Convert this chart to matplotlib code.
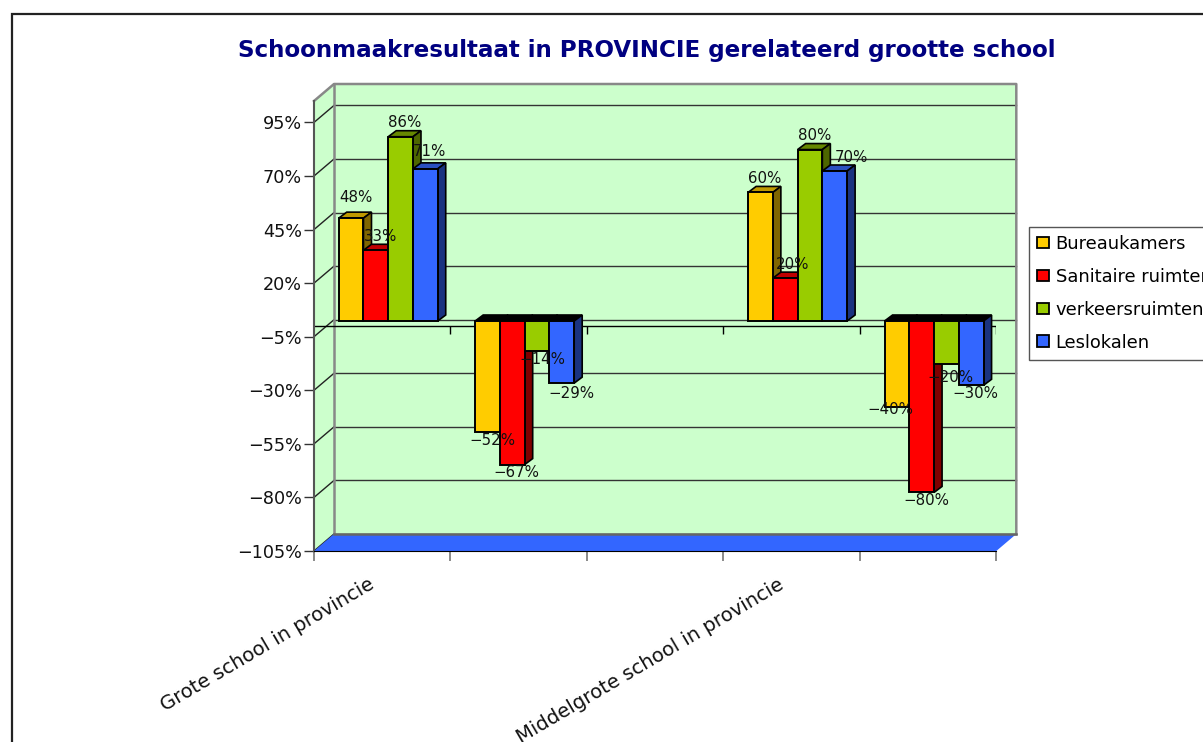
"""Schoonmaakresultaat: pseudo-3D grouped bars on a green walled chart."""
import matplotlib
matplotlib.use("Agg")
import matplotlib.pyplot as plt
from matplotlib.patches import Patch, Rectangle

W, H = 1203, 742

title = "Schoonmaakresultaat in PROVINCIE gerelateerd grootte school"
categories = ["Grote school in provincie", "", "", "Middelgrote school in provincie", ""]
series_names = ["Bureaukamers", "Sanitaire ruimten", "verkeersruimten", "Leslokalen"]
bureaukamers = [48, -52, None, 60, -40]
sanitaire = [33, -67, None, 20, -80]
verkeers = [86, -14, None, 80, -20]
leslokalen = [71, -29, None, 70, -30]
y_ticks = [95, 70, 45, 20, -5, -30, -55, -80, -105]

front_colors = ["#FFCC00", "#FF0000", "#99CC00", "#3366FF"]
top_colors = ["#BF9900", "#BF0000", "#668800", "#2A50C0"]
side_colors = ["#806600", "#7F0000", "#4D6600", "#1A3380"]
wall = "#CCFFCC"

plt.rcParams["font.family"] = "DejaVu Sans"
fig = plt.figure(figsize=(W / 100, H / 100), dpi=100)
fig.add_artist(Rectangle((11.5 / W, -0.1), 1.2, 1.1 - 13.5 / H, transform=fig.transFigure,
                         fill=False, ec="#222222", lw=1.6))
ax = fig.add_axes([314 / W, 1 - 551 / H, 682.3 / W, 450 / H])
ax.patch.set_visible(False)
ax.set_xlim(0, 5)
ax.set_ylim(-105, 105)

px_x = 5 / 682.3
px_y = 210 / 450
dx, dy = 20 * px_x, 17 * px_y  # wall depth
bx, by = 6 * px_x, 5 * px_y  # bars stand a bit inside the box
sx, sy = 8 * px_x, 6 * px_y  # bar depth
bw = 24.75 * px_x

# walls and floor
ax.fill([0, dx, dx, 0], [-105, -105 + dy, 105 + dy, 105], fc=wall, ec="none", zorder=1, clip_on=False)
ax.fill([dx, 5 + dx, 5 + dx, dx], [-105 + dy, -105 + dy, 105 + dy, 105 + dy], fc=wall, ec="none",
        zorder=1, clip_on=False)
for t in y_ticks:
    ax.plot([0, dx], [t, t + dy], color="#222222", lw=1, zorder=2, clip_on=False)
    ax.plot([dx, 5 + dx], [t + dy, t + dy], color="#333333", lw=1, zorder=2, clip_on=False)
ax.plot([0, dx, 5 + dx, 5 + dx], [105, 105 + dy, 105 + dy, -105 + dy], color="#888888", lw=1.8,
        zorder=3, clip_on=False)
ax.plot([dx, dx], [105 + dy, -105 + dy], color="#888888", lw=1.8, zorder=3, clip_on=False)
ax.fill([0, dx, 5 + dx, 5], [-105, -105 + dy, -105 + dy, -105], fc="#3366FF", ec="none", zorder=3,
        clip_on=False)
ax.plot([dx, 5 + dx], [-105 + dy, -105 + dy], color="#666666", lw=1.8, zorder=3, clip_on=False)

# zero axis with its ticks
ax.plot([0, 5], [0, 0], color="black", lw=1, zorder=3)
ax.vlines(range(1, 6), -8 * px_y, 0, color="black", lw=1, zorder=3)

# bars
all_series = [bureaukamers, sanitaire, verkeers, leslokalen]
z = 4
for s, values in enumerate(all_series):
    for c, v in enumerate(values):
        if v is None:
            continue
        x0 = c + 0.5 - 2 * bw + s * bw + bx
        x1 = x0 + bw
        base = by
        end = v + by
        top_y = max(base, end)
        low_y = min(base, end)
        # top, then side, then front
        ax.fill([x0, x0 + sx, x1 + sx, x1], [top_y, top_y + sy, top_y + sy, top_y],
                fc=top_colors[s] if v > 0 else "black", ec="black", lw=1.2, zorder=z)
        ax.fill([x1, x1 + sx, x1 + sx, x1], [low_y, low_y + sy, top_y + sy, top_y],
                fc=side_colors[s], ec="black", lw=1.2, zorder=z)
        ax.bar(x0, v, width=bw, bottom=by, align="edge", color=front_colors[s], ec="black", lw=1.4,
               zorder=z)
    z += 1

# value labels, offsets in pixels above or below the bar end
label_nudge = {(0, 0): (0, 7), (3, 0): (0, 3), (1, 3): (3, 0), (3, 3): (12, -1), (2, 1): (1, 0),
               (3, 1): (5, -2), (0, 4): (-11, 5), (2, 4): (0, -6)}
for s, values in enumerate(all_series):
    for c, v in enumerate(values):
        if v is None:
            continue
        xc = c + 0.5 - 2 * bw + s * bw + bx + bw / 2 + 4.5 * px_x
        off = 14 if v > 0 else -8
        nx, ny = label_nudge.get((s, c), (0, 0))
        ax.annotate(f"{v}%".replace("-", "\u2212"), (xc, v + by), xytext=((nx) * 0.72, (off + ny) * 0.72),
                    textcoords="offset points", ha="center", va="center", fontsize=10.8,
                    color="#111111", zorder=20, annotation_clip=False)

# axes
for name in ["top", "right"]:
    ax.spines[name].set_visible(False)
ax.spines["left"].set_color("#555555")
ax.spines["left"].set_linewidth(1.5)
ax.spines["left"].set_zorder(6)
ax.spines["bottom"].set_color("black")
ax.spines["bottom"].set_zorder(6)
ax.set_yticks(y_ticks)
ax.set_yticklabels([f"{t}%".replace("-", "\u2212") for t in y_ticks], fontsize=12.7, color="#111111")
ax.tick_params(axis="y", length=7.2, width=1, color="#333333", pad=1.5)
ax.set_xticks(range(6))
ax.set_xticklabels([])
ax.tick_params(axis="x", which="major", length=7.2, width=1.2, color="#777777")
ax.set_xticks([i + 0.5 - 9 * px_x for i in range(5)], minor=True)
ax.set_xticklabels(categories, minor=True, rotation=30.5, ha="right", va="center",
                   rotation_mode="anchor", fontsize=14.1, color="#111111")
ax.tick_params(axis="x", which="minor", length=0, pad=23)

fig.text(647 / W, 1 - 50 / H, title, color="#000080", fontsize=16.6, fontweight="bold",
         ha="center", va="center")

handles = [Patch(fc=c, ec="black", lw=1.3) for c in front_colors]
fig.legend(handles, series_names, loc="upper left", bbox_to_anchor=(1029 / W, 1 - 226.5 / H),
           bbox_transform=fig.transFigure, fontsize=12.9, frameon=True, fancybox=False,
           edgecolor="#555555", framealpha=1, borderaxespad=0, borderpad=0.47,
           handlelength=0.62, handleheight=0.62, handletextpad=0.4, labelspacing=0.83)

fig.savefig("out.png", dpi=100)
plt.close(fig)
